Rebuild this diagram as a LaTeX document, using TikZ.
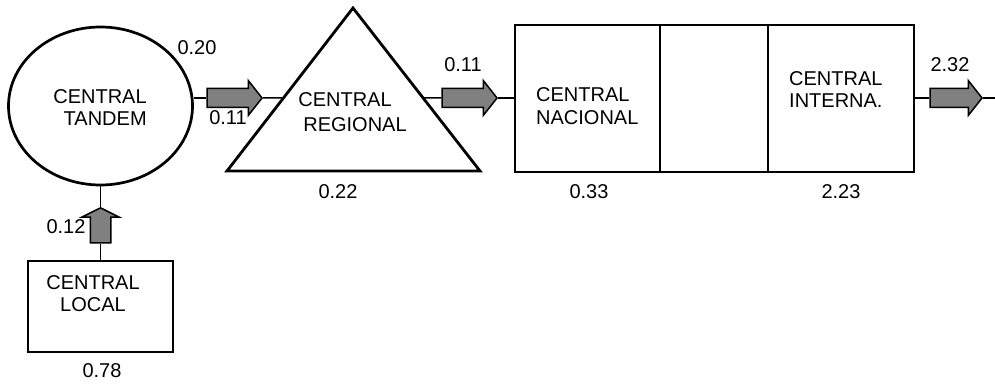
\documentclass[tikz,border=0pt]{standalone}
\usepackage{fontspec}
\setmainfont{Liberation Sans}
\usetikzlibrary{shapes.geometric,shapes.arrows,calc}
\definecolor{arrowgray}{HTML}{808080}
\begin{document}
\begin{tikzpicture}[x=1pt,y=-1pt,
  every node/.style={font=\fontsize{20}{22.5}\selectfont, inner sep=0pt},
  outline/.style={draw, line width=2.8pt},
  conn/.style={line width=1.5pt},
  blockarrow/.style={single arrow, draw, fill=arrowgray, line width=1.5pt,
     inner xsep=0pt, inner ysep=8.75pt, single arrow head extend=8pt,
     single arrow tip angle=103.5, single arrow head indent=0pt,
     minimum height=55pt, anchor=tip},
  lbl/.style={anchor=center}
]
\useasboundingbox (0,0) rectangle (995,385);

% Central tandem
\node[ellipse, draw, line width=2.7pt, minimum width=184pt, minimum height=158pt] (tandem) at (100.5,106) {};
\node[align=right] (tandemtxt) at (100,107.5) {CENTRAL\\TANDEM};

% Central regional (triangle)
\coordinate (apex) at (353,8);
\coordinate (bl) at (227,171);
\coordinate (br) at (480,171);
\draw[line width=2.8pt, line join=miter] (apex) -- (bl) -- (br) -- cycle;
\coordinate (trL) at ($(apex)!0.552!(bl)$);
\coordinate (trR) at ($(apex)!0.552!(br)$);
\node (regA) at (345,100) {CENTRAL};
\node (regB) at (355,125) {REGIONAL};

% Boxes
\node[rectangle, outline, minimum width=145pt, minimum height=147pt] (nac) at (587.5,98.5) {};
\node[rectangle, outline, minimum width=108pt, minimum height=147pt] (mid) at (714,98.5) {};
\node[rectangle, outline, minimum width=146pt, minimum height=147pt] (intl) at (841,98.5) {};
\node[align=left, anchor=west] (nactxt) at (536,106) {CENTRAL\\NACIONAL};
\node[align=left, anchor=west] (intltxt) at (789,89.5) {CENTRAL\\INTERNA.};

% Central local
\node[rectangle, draw, line width=1.8pt, minimum width=145pt, minimum height=91pt] (local) at (100.5,306.5) {};
\node[align=center] (localtxt) at (93,293.5) {CENTRAL\\LOCAL};

% Block arrows
\node[blockarrow] (a1) at (263,98) {};
\node[blockarrow] (a2) at (498,98) {};
\node[blockarrow, minimum height=52pt] (a3) at (983,98) {};
\node[blockarrow, rotate=90, minimum height=35pt, inner ysep=9.5pt,
      single arrow head extend=8.5pt, single arrow tip angle=127] (a4) at (100.5,207) {};
\coordinate (out) at (995,98);

% Connectors
\draw[conn] (tandem.east |- a1.tail) -- (a1.tail);
\draw[conn] (a1.tip) -- (trL);
\draw[conn] (trR) -- (a2.tail);
\draw[conn] (a2.tip) -- (nac.west |- a2.tip);
\draw[conn] (intl.east |- a3.tail) -- (a3.tail);
\draw[conn] (a3.tip) -- (out);
\draw[conn] (tandem.south) -- (a4.tip);
\draw[conn] (a4.tail) -- (local.north);

% Labels
\node[lbl] (l1) at (197,48) {0.20};
\node[lbl] (l2) at (228,118) {0.11};
\node[lbl] (l3) at (463,65) {0.11};
\node[lbl] (l4) at (950,65) {2.32};
\node[lbl] (l5) at (338,192) {0.22};
\node[lbl] (l6) at (589,192) {0.33};
\node[lbl] (l7) at (841,192) {2.23};
\node[lbl] (l8) at (66,227) {0.12};
\node[lbl] (l9) at (102,371) {0.78};
\end{tikzpicture}
\end{document}
